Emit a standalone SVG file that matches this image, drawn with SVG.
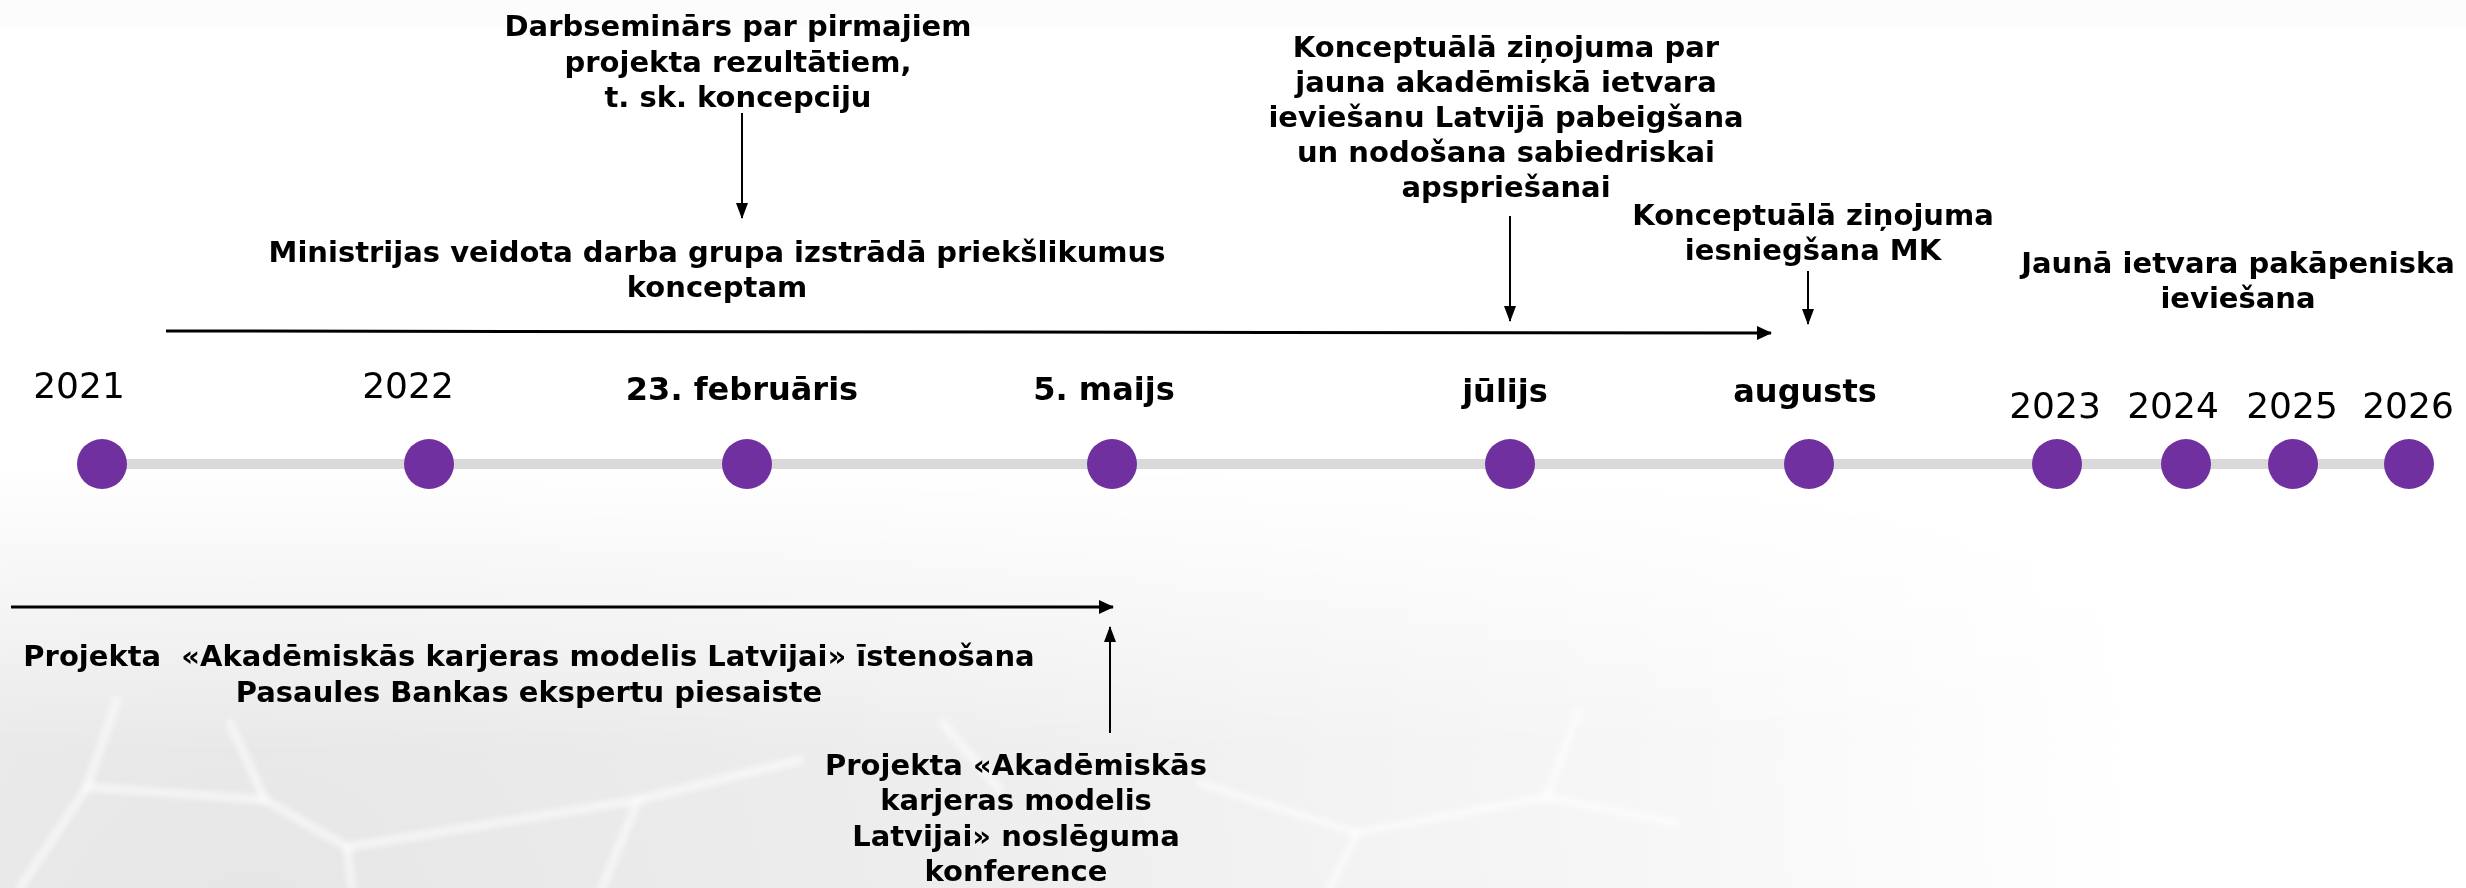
<svg xmlns="http://www.w3.org/2000/svg" width="2466" height="888" viewBox="0 0 2466 888">
<style>
.ann{font-family:"DejaVu Sans","Verdana",sans-serif;font-weight:bold;font-size:29px;fill:#000;text-anchor:middle}
.yr{font-family:"DejaVu Sans","Verdana",sans-serif;font-size:36px;fill:#000;text-anchor:middle}
.mo{font-family:"DejaVu Sans","Verdana",sans-serif;font-weight:bold;font-size:32px;fill:#000;text-anchor:middle}
.dot{fill:#7030a0}
.thick{stroke:#000;stroke-width:3;fill:none}
.thin{stroke:#000;stroke-width:2;fill:none}
.net{stroke:#fff;stroke-width:8;fill:none;stroke-linecap:round;opacity:.6}
</style>
<defs>
<radialGradient id="bgGrad" cx="250" cy="960" r="1900" gradientUnits="userSpaceOnUse">
<stop offset="0" stop-color="#e6e6e6"/>
<stop offset="0.4" stop-color="#eeeeee"/>
<stop offset="0.75" stop-color="#f7f7f7"/>
<stop offset="1" stop-color="#ffffff"/>
</radialGradient>
<linearGradient id="fadeTop" x1="0" y1="0" x2="0" y2="760" gradientUnits="userSpaceOnUse">
<stop offset="0" stop-color="#fff" stop-opacity="1"/>
<stop offset="0.6" stop-color="#fff" stop-opacity="1"/>
<stop offset="1" stop-color="#fff" stop-opacity="0"/>
</linearGradient>
<filter id="soft" x="-5%" y="-5%" width="110%" height="110%"><feGaussianBlur stdDeviation="3"/></filter>
<marker id="headBig" markerUnits="userSpaceOnUse" markerWidth="15" markerHeight="14" refX="14" refY="7" orient="auto">
<path d="M0,0 L15,7 L0,14 z" fill="#000"/>
</marker>
<marker id="headSmall" markerUnits="userSpaceOnUse" markerWidth="16" markerHeight="12" refX="15" refY="6" orient="auto">
<path d="M0,0 L16,6 L0,12 z" fill="#000"/>
</marker>
</defs>

<g id="background">
<rect x="0" y="0" width="2466" height="888" fill="url(#bgGrad)"/>
<g filter="url(#soft)">
<path class="net" d="M117,700 L87,787 L265,800 L347,847 L352,888"/>
<path class="net" d="M230,723 L265,800"/>
<path class="net" d="M347,847 L638,800 L800,760"/>
<path class="net" d="M638,800 L602,888"/>
<path class="net" d="M87,787 L20,888"/>
<path class="net" d="M943,723 L1000,790"/>
<path class="net" d="M1200,783 L1357,833 L1547,797 L1579,710"/>
<path class="net" d="M1357,833 L1329,888"/>
<path class="net" d="M1547,797 L1676,823"/>
</g>
<rect x="0" y="0" width="2466" height="888" fill="url(#fadeTop)"/>
<rect x="0" y="0" width="2466" height="28" fill="#fcfcfc"/>
</g>

<g id="timeline">
<line x1="102" y1="464" x2="2410" y2="464" stroke="#d9d9d9" stroke-width="10"/>
</g>

<g id="connectors">
<line class="thick" x1="166" y1="331" x2="1771" y2="333" marker-end="url(#headBig)"/>
<line class="thick" x1="11" y1="607" x2="1113" y2="607" marker-end="url(#headBig)"/>
<line class="thin" x1="742" y1="113" x2="742" y2="218" marker-end="url(#headSmall)"/>
<line class="thin" x1="1510" y1="216" x2="1510" y2="321" marker-end="url(#headSmall)"/>
<line class="thin" x1="1808" y1="271" x2="1808" y2="324" marker-end="url(#headSmall)"/>
<line class="thin" x1="1110" y1="733" x2="1110" y2="627" marker-end="url(#headSmall)"/>
</g>

<g id="m2021"><circle class="dot" cx="102" cy="464" r="25"/><text class="yr" x="79" y="398">2021</text></g>
<g id="m2022"><circle class="dot" cx="429" cy="464" r="25"/><text class="yr" x="408" y="398">2022</text></g>
<g id="mFeb"><circle class="dot" cx="747" cy="464" r="25"/><text class="mo" x="742" y="400">23. februāris</text></g>
<g id="mMay"><circle class="dot" cx="1112" cy="464" r="25"/><text class="mo" x="1104" y="400">5. maijs</text></g>
<g id="mJul"><circle class="dot" cx="1510" cy="464" r="25"/><text class="mo" x="1505" y="402">jūlijs</text></g>
<g id="mAug"><circle class="dot" cx="1809" cy="464" r="25"/><text class="mo" x="1805" y="402">augusts</text></g>
<g id="m2023"><circle class="dot" cx="2057" cy="464" r="25"/><text class="yr" x="2055" y="418">2023</text></g>
<g id="m2024"><circle class="dot" cx="2186" cy="464" r="25"/><text class="yr" x="2173" y="418">2024</text></g>
<g id="m2025"><circle class="dot" cx="2293" cy="464" r="25"/><text class="yr" x="2292" y="418">2025</text></g>
<g id="m2026"><circle class="dot" cx="2409" cy="464" r="25"/><text class="yr" x="2408" y="418">2026</text></g>

<g id="workshop">
<text class="ann" x="738" y="36">Darbsemin&#257;rs par pirmajiem</text>
<text class="ann" x="738" y="71.5">projekta rezult&#257;tiem,</text>
<text class="ann" x="738" y="107">t. sk. koncepciju</text>
</g>

<g id="working-group">
<text class="ann" x="717" y="262">Ministrijas veidota darba grupa izstr&#257;d&#257; priek&#353;likumus</text>
<text class="ann" x="717" y="297">konceptam</text>
</g>

<g id="concept-report">
<text class="ann" x="1506" y="57">Konceptu&#257;l&#257; zi&#326;ojuma par</text>
<text class="ann" x="1506" y="92">jauna akad&#275;misk&#257; ietvara</text>
<text class="ann" x="1506" y="127">ievie&#353;anu Latvij&#257; pabeig&#353;ana</text>
<text class="ann" x="1506" y="162">un nodo&#353;ana sabiedriskai</text>
<text class="ann" x="1506" y="197">apsprie&#353;anai</text>
</g>

<g id="submission">
<text class="ann" x="1813" y="225">Konceptu&#257;l&#257; zi&#326;ojuma</text>
<text class="ann" x="1813" y="260">iesnieg&#353;ana MK</text>
</g>

<g id="implementation">
<text class="ann" x="2238" y="273">Jaun&#257; ietvara pak&#257;peniska</text>
<text class="ann" x="2238" y="308">ievie&#353;ana</text>
</g>

<g id="project">
<text class="ann" x="529" y="666" style="white-space:pre" xml:space="preserve">Projekta  «Akad&#275;misk&#257;s karjeras modelis Latvijai» &#299;steno&#353;ana</text>
<text class="ann" x="529" y="702">Pasaules Bankas ekspertu piesaiste</text>
</g>

<g id="conference">
<text class="ann" x="1016" y="775">Projekta «Akad&#275;misk&#257;s</text>
<text class="ann" x="1016" y="810">karjeras modelis</text>
<text class="ann" x="1016" y="846">Latvijai» nosl&#275;guma</text>
<text class="ann" x="1016" y="881">konference</text>
</g>
</svg>
